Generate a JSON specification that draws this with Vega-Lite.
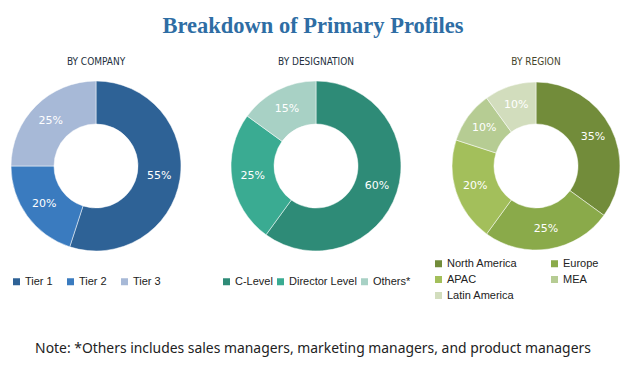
{
  "$schema": "https://vega.github.io/schema/vega-lite/v6.json",
  "background": "white",
  "padding": {"left": 6, "top": 14, "right": 5, "bottom": 5},
  "title": {"text": "Breakdown of Primary Profiles", "font": "Liberation Serif", "fontSize": 22.5, "fontWeight": "bold", "color": "#2e6da4", "anchor": "middle", "offset": 20, "dx": -3},
  "config": {"view": {"stroke": null}},
  "spacing": 33,
  "vconcat": [
    {
      "hconcat": [
        {
          "width": 180, "height": 176,
          "title": {"text": "BY COMPANY", "font": "DejaVu Sans Condensed", "fontSize": 10, "fontWeight": "normal", "color": "#23303d", "offset": 11},
          "data": {"values": [
            {"category": "Tier 1", "value": 0.55, "order": 1},
            {"category": "Tier 2", "value": 0.20, "order": 2},
            {"category": "Tier 3", "value": 0.25, "order": 3}
          ]},
          "encoding": {
            "theta": {"field": "value", "type": "quantitative", "stack": true},
            "order": {"field": "order", "type": "quantitative"}
          },
          "layer": [
            {"mark": {"type": "arc", "outerRadius": 85, "innerRadius": 42, "stroke": "white", "strokeWidth": 0.5},
             "encoding": {"color": {"field": "category", "type": "nominal",
               "scale": {"domain": ["Tier 1", "Tier 2", "Tier 3"], "range": ["#2e6296", "#3a7bbf", "#a7b9d7"]},
               "legend": {"orient": "none", "legendX": 5, "legendY": 198, "direction": "horizontal", "title": null, "symbolType": "square", "symbolSize": 49, "symbolStrokeWidth": 0, "labelFont": "Liberation Sans", "labelFontSize": 11, "labelColor": "#222", "columnPadding": 12, "labelOffset": 3}}}},
            {"mark": {"type": "text", "radius": 64, "font": "DejaVu Sans", "fontSize": 11},
             "encoding": {"detail": {"field": "category"}, "color": {"value": "white"}, "text": {"field": "value", "type": "quantitative", "format": ".0%"}}}
          ]
        },
        {
          "width": 180, "height": 176,
          "title": {"text": "BY DESIGNATION", "font": "DejaVu Sans Condensed", "fontSize": 10, "fontWeight": "normal", "color": "#23303d", "offset": 11},
          "data": {"values": [
            {"category": "C-Level", "value": 0.60, "order": 1},
            {"category": "Director Level", "value": 0.25, "order": 2},
            {"category": "Others*", "value": 0.15, "order": 3}
          ]},
          "encoding": {
            "theta": {"field": "value", "type": "quantitative", "stack": true},
            "order": {"field": "order", "type": "quantitative"}
          },
          "layer": [
            {"mark": {"type": "arc", "outerRadius": 85, "innerRadius": 42, "stroke": "white", "strokeWidth": 0.5},
             "encoding": {"color": {"field": "category", "type": "nominal",
               "scale": {"domain": ["C-Level", "Director Level", "Others*"], "range": ["#2e8b77", "#3aab92", "#a8d1c5"]},
               "legend": {"orient": "none", "legendX": -5, "legendY": 198, "direction": "horizontal", "title": null, "symbolType": "square", "symbolSize": 49, "symbolStrokeWidth": 0, "labelFont": "Liberation Sans", "labelFontSize": 11, "labelColor": "#222", "columnPadding": 2, "labelOffset": 3}}}},
            {"mark": {"type": "text", "radius": 64, "font": "DejaVu Sans", "fontSize": 11},
             "encoding": {"detail": {"field": "category"}, "color": {"value": "white"}, "text": {"field": "value", "type": "quantitative", "format": ".0%"}}}
          ]
        },
        {
          "width": 180, "height": 176,
          "title": {"text": "BY REGION", "font": "DejaVu Sans Condensed", "fontSize": 10, "fontWeight": "normal", "color": "#45452a", "offset": 11},
          "data": {"values": [
            {"category": "North America", "value": 0.35, "order": 1},
            {"category": "Europe", "value": 0.25, "order": 2},
            {"category": "APAC", "value": 0.20, "order": 3},
            {"category": "MEA", "value": 0.10, "order": 4},
            {"category": "Latin America", "value": 0.10, "order": 5}
          ]},
          "encoding": {
            "theta": {"field": "value", "type": "quantitative", "stack": true},
            "order": {"field": "order", "type": "quantitative"}
          },
          "layer": [
            {"mark": {"type": "arc", "outerRadius": 84, "innerRadius": 42, "stroke": "white", "strokeWidth": 0.5},
             "encoding": {"color": {"field": "category", "type": "nominal",
               "scale": {"domain": ["North America", "Europe", "APAC", "MEA", "Latin America"], "range": ["#728c3a", "#8aaa4a", "#a3bf5b", "#b6cc93", "#d2ddbd"]},
               "legend": {"orient": "none", "legendX": -13, "legendY": 180, "direction": "horizontal", "columns": 2, "title": null, "symbolType": "square", "symbolSize": 49, "symbolStrokeWidth": 0, "labelFont": "Liberation Sans", "labelFontSize": 11, "labelColor": "#222", "columnPadding": 31, "rowPadding": 4, "labelOffset": 3}}}},
            {"mark": {"type": "text", "radius": 64, "font": "DejaVu Sans", "fontSize": 11},
             "encoding": {"detail": {"field": "category"}, "color": {"value": "white"}, "text": {"field": "value", "type": "quantitative", "format": ".0%"}}}
          ]
        }
      ],
      "spacing": 40,
      "bounds": "flush",
      "resolve": {"scale": {"color": "independent", "theta": "independent"}}
    },
    {
      "width": 620, "height": 30,
      "data": {"values": [{"note": "Note: *Others includes sales managers, marketing managers, and product managers"}]},
      "mark": {"type": "text", "font": "Noto Sans", "fontSize": 13.9, "color": "#222", "dx": -3},
      "encoding": {"text": {"field": "note"}}
    }
  ]
}
